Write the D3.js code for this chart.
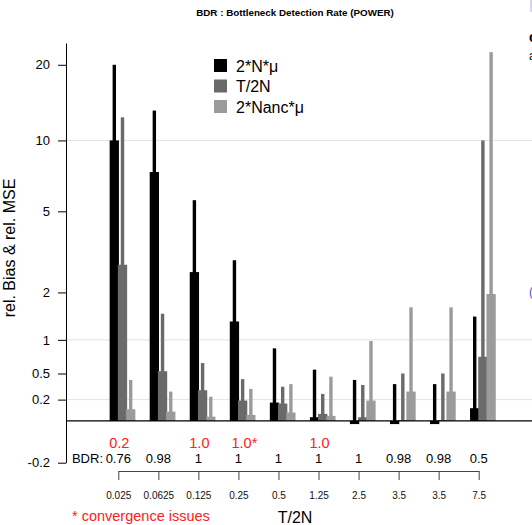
<!DOCTYPE html>
<html>
<head>
<meta charset="utf-8">
<script src="https://cdn.jsdelivr.net/npm/d3@7"></script>
<style>
  body { margin: 0; background: #fff; }
  svg { display: block; font-family: "Liberation Sans", Arial, sans-serif; }
</style>
</head>
<body>
<div id="chart"></div>
<script>
// groups on the x axis (T/2N)
var groups = ["0.025", "0.0625", "0.125", "0.25", "0.5", "1.25", "2.5", "3.5", "3.5", "7.5"];
var bdr = ["0.76", "0.98", "1", "1", "1", "1", "1", "0.98", "0.98", "0.5"];
var bdrRed = ["0.2", "", "1.0", "1.0*", "", "1.0", "", "", "", ""];

var seriesNames = ["2*N*\u03bc", "T/2N", "2*Nanc*\u03bc"];
var seriesColors = ["#000000", "#6a6a6a", "#9b9b9b"];

// rel. bias (wide bars) and rel. MSE (thin bars)
var biasN = [10, 7.4, 2.57, 1.34, 0.17, 0.032, -0.015, -0.015, -0.015, 0.115];
var mseN = [20, 13.2, 5.6, 2.95, 0.86, 0.55, 0.42, 0.37, 0.37, 1.44];
var biasT = [2.8, 0.53, 0.3, 0.19, 0.16, 0.062, 0.032, 0.008, 0.008, 0.73];
var mseT = [12.4, 1.5, 0.64, 0.43, 0.34, 0.26, 0.36, 0.5, 0.5, 10];
var biasA = [0.105, 0.083, 0.037, 0.053, 0.074, 0.044, 0.19, 0.285, 0.285, 1.96];
var mseA = [0.42, 0.285, 0.23, 0.315, 0.37, 0.46, 0.98, 1.64, 1.64, 22.4];

var yTicks = [20, 10, 5, 2, 1, 0.5, 0.2, -0.2];
var gridVals = [10, 1, 0.2];

var W = 532, H = 525;

// log(1+x) above zero, stretched linear below
var tf = function(v) { return v >= 0 ? Math.log1p(v) : v * 1.785; };

var y = d3.scaleLinear().domain([tf(-0.2), Math.log1p(24.3)]).range([462.7, 43]);
var x = d3.scalePoint().domain(d3.range(groups.length)).range([118.3, 478.7]);

var offsets = [-4, 4.2, 12.4];
var barW = 9.3, lineW = 3.4;
var series = [
  {bias: biasN, mse: mseN},
  {bias: biasT, mse: mseT},
  {bias: biasA, mse: mseA}
];

var svg = d3.select("#chart").append("svg")
  .attr("width", W).attr("height", H);

// title
svg.append("text")
  .attr("x", 295).attr("y", 15.5)
  .attr("text-anchor", "middle")
  .style("font-weight", "bold").style("font-size", "9.8px")
  .text("BDR : Bottleneck Detection Rate (POWER)");

// grid lines
svg.selectAll(".grid").data(gridVals).enter()
  .append("line")
  .attr("x1", 66).attr("x2", W)
  .attr("y1", d => y(tf(d))).attr("y2", d => y(tf(d)))
  .style("stroke", "#e2e2e2").style("stroke-width", 1);

// bars
series.forEach(function(s, k) {
  var g = svg.append("g");
  g.selectAll(".bias").data(s.bias).enter()
    .append("rect")
    .attr("x", (d, i) => x(i) + offsets[k] - barW / 2)
    .attr("width", barW)
    .attr("y", d => Math.min(y(tf(d)), y(0)))
    .attr("height", d => Math.max(Math.abs(y(tf(d)) - y(0)), 0.8))
    .style("fill", seriesColors[k]);
  g.selectAll(".mse").data(s.mse).enter()
    .append("rect")
    .attr("x", (d, i) => x(i) + offsets[k] - lineW / 2)
    .attr("width", lineW)
    .attr("y", d => y(tf(d)))
    .attr("height", d => y(0) - y(tf(d)))
    .style("fill", seriesColors[k]);
});

// zero line
svg.append("line")
  .attr("x1", 66).attr("x2", W)
  .attr("y1", y(0)).attr("y2", y(0))
  .style("stroke", "#000").style("stroke-width", 1.2);

// y axis
var yAxis = d3.axisLeft(y)
  .tickValues(yTicks.map(tf))
  .tickFormat((d, i) => yTicks[i])
  .tickSize(8).tickSizeOuter(0).tickPadding(8);
var ya = svg.append("g").attr("transform", "translate(66,0)").call(yAxis);
ya.selectAll("text").style("font-size", "13px").style("fill", "#000")
  .style("font-family", "Liberation Sans, Arial, sans-serif");
ya.selectAll("path, line").style("stroke", "#000");

svg.append("text")
  .attr("transform", "translate(15,248) rotate(-90)")
  .attr("text-anchor", "middle")
  .style("font-size", "16px")
  .text("rel. Bias & rel. MSE");

// legend
var leg = svg.append("g").attr("transform", "translate(214,59)");
seriesNames.forEach(function(name, k) {
  leg.append("rect").attr("x", 0).attr("y", k * 20.5)
    .attr("width", 13).attr("height", 13).style("fill", seriesColors[k]);
  leg.append("text").attr("x", 22).attr("y", k * 20.5 + 12.5)
    .style("font-size", "16px").text(name);
});

// BDR row
svg.append("text").attr("x", 103).attr("y", 463)
  .attr("text-anchor", "end").style("font-size", "13px").text("BDR:");
svg.selectAll(".bdr").data(bdr).enter()
  .append("text")
  .attr("x", (d, i) => x(i)).attr("y", 463)
  .attr("text-anchor", "middle").style("font-size", "13px")
  .text(d => d);
svg.selectAll(".bdrRed").data(bdrRed).enter()
  .append("text")
  .attr("x", (d, i) => x(i) + (d.length > 3 ? 6 : 1)).attr("y", 448)
  .attr("text-anchor", "middle").style("font-size", "14.5px")
  .style("fill", "#ff2020")
  .text(d => d);

// x axis
var xAxis = d3.axisBottom(x)
  .tickFormat(i => groups[i])
  .tickSize(9).tickSizeOuter(0).tickPadding(12);
var xa = svg.append("g").attr("transform", "translate(0,471)").call(xAxis);
xa.selectAll("text").style("font-size", "10px").style("fill", "#111")
  .style("font-family", "Liberation Sans, Arial, sans-serif");
xa.selectAll("path, line").style("stroke", "#444");

svg.append("text").attr("x", 295).attr("y", 523)
  .attr("text-anchor", "middle").style("font-size", "16px").text("T/2N");

svg.append("text").attr("x", 72).attr("y", 521)
  .style("font-size", "14.5px").style("fill", "#ff2020")
  .text("* convergence issues");

// bits of the page behind the chart, cut by the right edge
svg.append("rect").attr("x", 530).attr("y", 0).attr("width", 2).attr("height", 12)
  .style("fill", "#d8d4ee");
svg.append("text").attr("x", 529).attr("y", 42).style("font-size", "14px")
  .style("font-weight", "bold").text("c");
svg.append("text").attr("x", 529).attr("y", 60).style("font-size", "12px").text("a");
svg.append("text").attr("x", 529).attr("y", 296).style("font-size", "12px")
  .style("fill", "#5050c0").text("(");
</script>
</body>
</html>
